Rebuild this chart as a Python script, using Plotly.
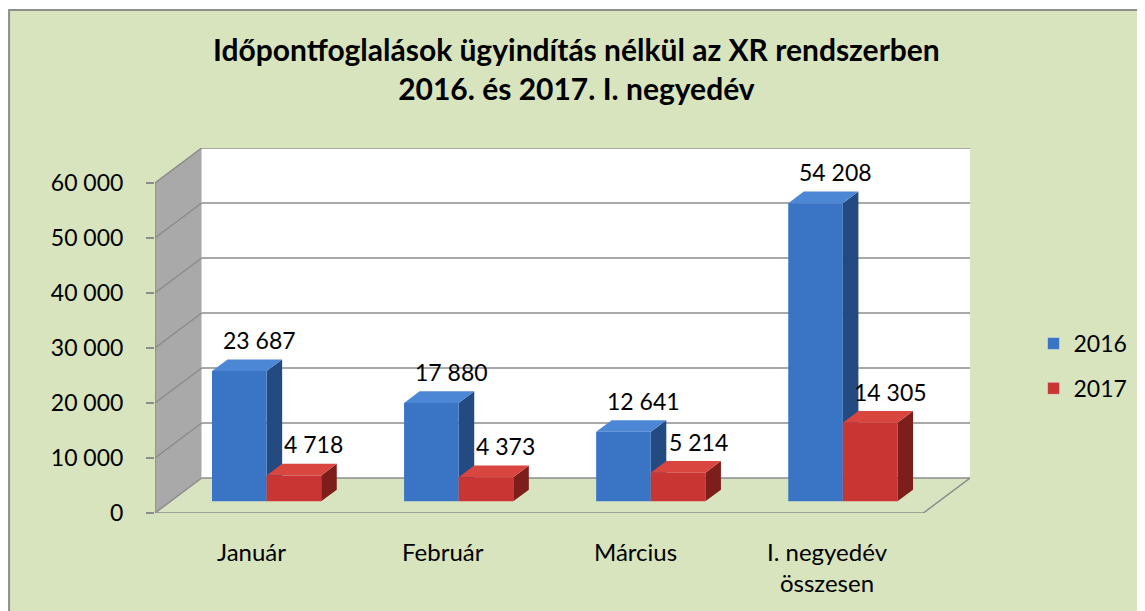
import plotly.graph_objects as go

# ---------------- data ----------------
categories = ["Január", "Február", "Március", "I. negyedév<br>összesen"]
series_names = ["2016", "2017"]
values_2016 = [23687, 17880, 12641, 54208]
values_2017 = [4718, 4373, 5214, 14305]
y_ticks = [0, 10000, 20000, 30000, 40000, 50000, 60000]
title_text = "<b>Időpontfoglalások ügyindítás nélkül az XR rendszerben<br>2016. és 2017. I. negyedév</b>"

# ---------------- geometry / style ----------------
OFF = 8                                   # default page body margin
W, H = 1145 - OFF, 611 - OFF
L, R, T, B = 155 - OFF, 976 - OFF, 148 - OFF, 513 - OFF   # plot area (figure px)
YMAX = 60000
DEPTH_PX = 35
DV = DEPTH_PX * YMAX / ((B - T) - DEPTH_PX)  # depth in value units
DX = 47                                     # depth in x units (px)
XMAX = R - L
CW = (XMAX - DX) / len(categories)
BW = 55
FONT = "Lato, 'Open Sans', sans-serif"
BG = "#D7E4BD"
GRID = "#8C8C8C"

def fmt(v):
    return f"{v:,}".replace(",", " ")

def px_to_paper_x(page_px):
    return (page_px - OFF - L) / (R - L)

def px_to_paper_y(page_py):
    return (B - (page_py - OFF)) / (B - T)

fig = go.Figure()

colors = {
    "2016": dict(front="#3A74C4", top="#4C87D6", side="#234B82"),
    "2017": dict(front="#C93532", top="#D8463F", side="#7E1E1B"),
}

b1, b2 = DV / 3, 2 * DV / 3
dxb = DX / 3

for i, cat in enumerate(categories):
    c = CW * (i + 0.5)
    for k, (name, vals) in enumerate([("2016", values_2016), ("2017", values_2017)]):
        v = vals[i]
        x0 = c + dxb - BW + k * BW
        x1 = x0 + BW
        col = colors[name]
        # side face
        fig.add_trace(go.Scatter(
            x=[x1, x1, x1 + dxb, x1 + dxb, x1], y=[b1, v + b1, v + b2, b2, b1],
            fill="toself", fillcolor=col["side"], mode="lines", line=dict(width=0, color=col["side"]),
            showlegend=False, hoverinfo="skip"))
        # top face
        fig.add_trace(go.Scatter(
            x=[x0, x1, x1 + dxb, x0 + dxb, x0], y=[v + b1, v + b1, v + b2, v + b2, v + b1],
            fill="toself", fillcolor=col["top"], mode="lines", line=dict(width=0, color=col["top"]),
            showlegend=False, hoverinfo="skip"))
        # front face
        fig.add_trace(go.Scatter(
            x=[x0, x1, x1, x0, x0], y=[b1, b1, v + b1, v + b1, b1],
            fill="toself", fillcolor=col["front"], mode="lines", line=dict(width=0, color=col["front"]),
            showlegend=False, hoverinfo="skip"))
        # data label
        fig.add_annotation(x=(x0 + x1) / 2, y=v + b1, xref="x", yref="y",
                           text=fmt(v), showarrow=False, xanchor="center", yanchor="middle",
                           xshift=20, yshift=31, font=dict(family=FONT, size=23, color="black"))

# legend-only entries
for name in series_names:
    fig.add_trace(go.Bar(x=[None], y=[None], name=name, marker_color=colors[name]["front"],
                         legendgroup=name))

# category labels
for i, cat in enumerate(categories):
    fig.add_annotation(x=CW * (i + 0.5), y=0, xref="x", yref="y", text=cat, showarrow=False,
                       xanchor="center", yanchor="top", yshift=-22,
                       font=dict(family=FONT, size=24, color="black"))

shapes = []
# chart background with border (top / left visible)
shapes.append(dict(type="rect", xref="paper", yref="paper",
                   x0=px_to_paper_x(8), x1=px_to_paper_x(1145 + 20),
                   y0=px_to_paper_y(611 + 20), y1=px_to_paper_y(10),
                   fillcolor=BG, line=dict(color="#8E8E8E", width=2), layer="below"))
# side wall
shapes.append(dict(type="path", xref="x", yref="y",
                   path=f"M0,0 L{DX},{DV} L{DX},{YMAX + DV} L0,{YMAX} Z",
                   fillcolor="#A9A9A9", line=dict(width=0), layer="below"))
# back wall
shapes.append(dict(type="rect", xref="x", yref="y", x0=DX, x1=XMAX, y0=DV, y1=YMAX + DV,
                   fillcolor="white", line=dict(width=0), layer="below"))
# floor
shapes.append(dict(type="path", xref="x", yref="y",
                   path=f"M0,0 L{DX},{DV} L{XMAX},{DV} L{XMAX - DX},0 Z",
                   fillcolor="#D8E4C0", line=dict(width=0), layer="below"))
# gridlines on side wall and back wall
for t in y_ticks:
    shapes.append(dict(type="line", xref="x", yref="y", x0=0, y0=t, x1=DX, y1=t + DV,
                       line=dict(color=GRID, width=1.5), layer="below"))
    shapes.append(dict(type="line", xref="x", yref="y", x0=DX, y0=t + DV, x1=XMAX, y1=t + DV,
                       line=dict(color=GRID, width=1.5), layer="below"))
# front vertical edge (y axis line)
shapes.append(dict(type="line", xref="x", yref="y", x0=0, y0=0, x1=0, y1=YMAX,
                   line=dict(color=GRID, width=1.5), layer="below"))
# floor front and right edges
shapes.append(dict(type="line", xref="x", yref="y", x0=0, y0=0, x1=XMAX - DX, y1=0,
                   line=dict(color=GRID, width=1.5), layer="below"))
shapes.append(dict(type="line", xref="x", yref="y", x0=XMAX - DX, y0=0, x1=XMAX, y1=DV,
                   line=dict(color=GRID, width=1.5), layer="below"))
# x tick marks at category boundaries
for k in range(len(categories) + 1):
    shapes.append(dict(type="line", xref="x", yref="y", ysizemode="pixel", yanchor=0,
                       x0=k * CW, x1=k * CW, y0=0, y1=-8,
                       line=dict(color=GRID, width=1.5)))

fig.add_annotation(xref="paper", yref="paper", x=px_to_paper_x(580), y=px_to_paper_y(69),
                   text=title_text, showarrow=False, xanchor="center", yanchor="middle",
                   font=dict(family=FONT, size=30, color="black"))

fig.update_layout(
    width=W, height=H,
    margin=dict(l=L, r=W - R, t=T, b=H - B, pad=0),
    paper_bgcolor="white", plot_bgcolor="rgba(0,0,0,0)",
    shapes=shapes,
    barmode="overlay",
    showlegend=True,
    legend=dict(x=px_to_paper_x(1040), y=px_to_paper_y(322), xanchor="left", yanchor="top",
                bgcolor="rgba(0,0,0,0)", font=dict(family=FONT, size=23, color="black"),
                tracegroupgap=12, itemwidth=30),
    xaxis=dict(range=[0, XMAX], showgrid=False, zeroline=False, showline=False,
               showticklabels=False, ticks="", fixedrange=True),
    yaxis=dict(range=[0, YMAX + DV], showgrid=False, zeroline=False, showline=False,
               tickvals=y_ticks, ticktext=[fmt(t) for t in y_ticks],
               ticks="outside", ticklen=8, tickcolor=GRID, tickwidth=1.5,
               ticklabelstandoff=18,
               tickfont=dict(family=FONT, size=23, color="black"), fixedrange=True),
    hovermode=False,
)

fig.write_html("out.html")
